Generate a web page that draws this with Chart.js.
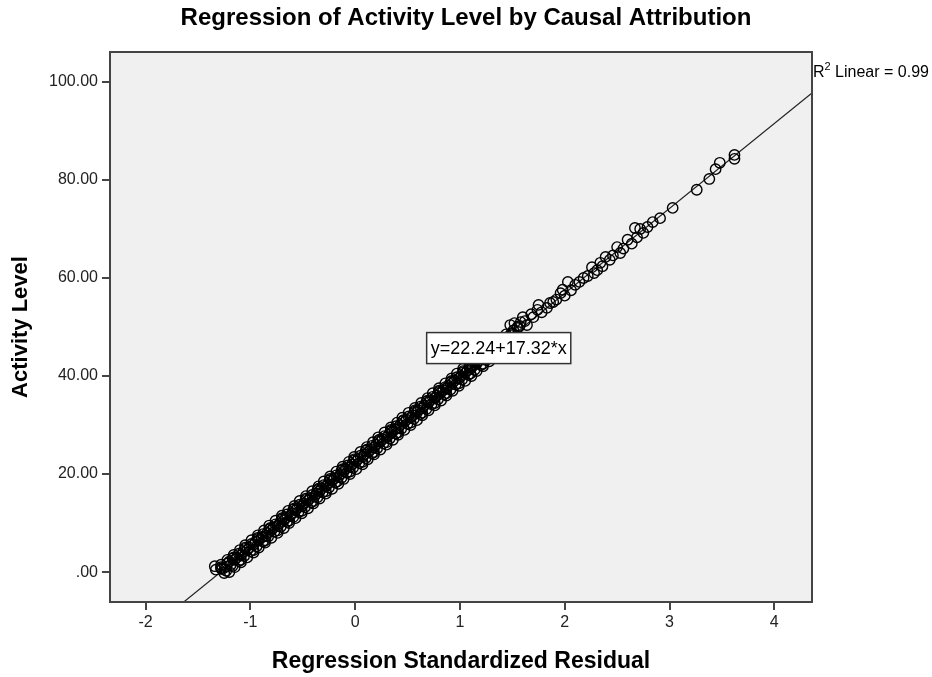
<!DOCTYPE html>
<html>
<head>
<meta charset="utf-8">
<title>Regression of Activity Level by Causal Attribution</title>
<script src="https://cdn.jsdelivr.net/npm/chart.js@4.4.1/dist/chart.umd.min.js"></script>
<style>
  html, body { margin: 0; padding: 0; background: #ffffff; }
  #chartBox { width: 932px; height: 677px; }
</style>
</head>
<body>
<div id="chartBox"><canvas id="scatter" width="932" height="677"></canvas></div>
<script>
// Values
const bandResid = [
  -1.25, -1.27, -1.34, -1.23, -1.19, -1.20, -1.15, -1.13, -1.09, -1.07, -1.03, -1.01, -0.97,
  -0.95, -0.92, -0.89, -0.85, -0.84, -0.80, -0.78, -0.74, -0.72, -0.68, -0.66, -0.62, -0.60,
  -0.57, -0.55, -0.51, -0.49, -0.45, -0.43, -0.39, -0.37, -0.34, -0.32, -0.28, -0.26, -0.22,
  -0.20, -0.16, -0.14, -0.11, -0.09, -0.05, -0.03, 0.01, 0.03, 0.07, 0.09, 0.13, 0.15, 0.18,
  0.20, 0.24, 0.26, 0.30, 0.32, 0.35, 0.38, 0.41, 0.43, 0.47, 0.49, 0.53, 0.55, 0.59, 0.60,
  0.64, 0.66, 0.70, 0.72, 0.76, 0.78, 0.81, 0.84, 0.87, 0.89, 0.93, 0.95, 0.99, 1.01, 1.05,
  1.07, 1.10, 1.12, 1.16, 1.18, 1.22, 1.24, 1.27, 1.30, 1.33, 1.35, 1.39, 1.41, 1.45, 1.46,
  1.50, 1.51, 1.55
];
const bandActivity = [
  -0.2, 0.6, 1.2, 1.1, 1.4, 2.2, 2.5, 3.0, 3.4, 4.1, 4.5, 5.0, 5.6,
  6.2, 6.5, 7.1, 7.4, 8.0, 8.5, 9.1, 9.4, 10.0, 10.6, 11.1, 11.5, 12.0,
  12.6, 13.1, 13.4, 14.0, 14.6, 15.1, 15.4, 16.0, 16.5, 17.1, 17.5, 18.0, 18.6,
  19.1, 19.4, 20.0, 20.5, 21.1, 21.4, 22.0, 22.6, 23.1, 23.5, 24.0, 24.6, 25.1, 25.4,
  26.0, 26.6, 27.1, 27.5, 28.0, 28.5, 29.1, 29.4, 30.0, 30.6, 31.1, 31.5, 32.0, 32.6, 33.1,
  33.4, 34.0, 34.6, 35.1, 35.5, 36.0, 36.5, 37.1, 37.4, 38.0, 38.6, 39.1, 39.5, 40.0, 40.6,
  41.1, 41.4, 42.0, 42.6, 43.1, 43.5, 44.0, 44.5, 45.1, 45.4, 46.0, 46.6, 47.1, 47.5, 48.0,
  48.6, 49.3, 49.8
];
// points a little above / below the fitted line inside the dense band
const spreadResid = [
  -1.28, -1.16, -1.05, -0.93, -0.81, -0.70, -0.58, -0.47, -0.35, -0.24, -0.12, -0.01,
  0.11, 0.23, 0.34, 0.46, 0.57, 0.69, 0.80, 0.92, 1.03, 1.15, 1.26, 1.38,
  -1.09, -0.97, -0.86, -0.74, -0.63, -0.51, -0.40, -0.28, -0.17, -0.05, 0.07, 0.18,
  0.30, 0.41, 0.53, 0.64, 0.76, 0.87, 0.99, 1.10, 1.22, 1.34, 1.45
];
const spreadActivity = [
  1, 3, 5, 7, 9, 11, 13, 15, 17, 19, 21, 23,
  25, 27, 29, 31, 33, 35, 37, 39, 41, 43, 45, 47,
  2.5, 4.5, 6.5, 8.5, 10.5, 12.5, 14.5, 16.5, 18.5, 20.5, 22.5, 24.5,
  26.5, 28.5, 30.5, 32.5, 34.5, 36.5, 38.5, 40.5, 42.5, 44.5, 46.5
];
// more layers of the band, right and left of the line
const lowerEdgeResid = [
  -1.23, -1.17, -1.11, -1.06, -1.00, -0.94, -0.88, -0.83, -0.77, -0.71, -0.65, -0.59, -0.54,
  -0.48, -0.42, -0.36, -0.31, -0.25, -0.19, -0.13, -0.08, -0.02, 0.04, 0.10, 0.16, 0.21,
  0.27, 0.33, 0.39, 0.44, 0.50, 0.56, 0.62, 0.68, 0.73, 0.79, 0.85, 0.91, 0.96, 1.02,
  1.08, 1.14, 1.20, 1.25, 1.31, 1.37, 1.43, 1.48, 1.54
];
const lowerEdgeActivity = [
  0.25, 1.25, 2.25, 3.25, 4.25, 5.25, 6.25, 7.25, 8.25, 9.25, 10.25, 11.25, 12.25,
  13.25, 14.25, 15.25, 16.25, 17.25, 18.25, 19.25, 20.25, 21.25, 22.25, 23.25, 24.25, 25.25,
  26.25, 27.25, 28.25, 29.25, 30.25, 31.25, 32.25, 33.25, 34.25, 35.25, 36.25, 37.25, 38.25, 39.25,
  40.25, 41.25, 42.25, 43.25, 44.25, 45.25, 46.25, 47.25, 48.25
];
const upperEdgeResid = [
  -1.28, -1.22, -1.17, -1.11, -1.05, -0.99, -0.93, -0.88, -0.82, -0.76, -0.70, -0.65, -0.59,
  -0.53, -0.47, -0.41, -0.36, -0.30, -0.24, -0.18, -0.13, -0.07, -0.01, 0.05, 0.10, 0.16,
  0.22, 0.28, 0.34, 0.39, 0.45, 0.51, 0.57, 0.62, 0.68, 0.74, 0.80, 0.86, 0.91, 0.97,
  1.03, 1.09, 1.14, 1.20, 1.26, 1.32, 1.38, 1.43, 1.49
];
const upperEdgeActivity = [
  0.75, 1.75, 2.75, 3.75, 4.75, 5.75, 6.75, 7.75, 8.75, 9.75, 10.75, 11.75, 12.75,
  13.75, 14.75, 15.75, 16.75, 17.75, 18.75, 19.75, 20.75, 21.75, 22.75, 23.75, 24.75, 25.75,
  26.75, 27.75, 28.75, 29.75, 30.75, 31.75, 32.75, 33.75, 34.75, 35.75, 36.75, 37.75, 38.75, 39.75,
  40.75, 41.75, 42.75, 43.75, 44.75, 45.75, 46.75, 47.75, 48.75
];
const outerLeftResid = [
  -1.33, -1.28, -1.22, -1.16, -1.10, -1.05, -0.99, -0.93, -0.87, -0.82, -0.76, -0.70, -0.64,
  -0.58, -0.53, -0.47, -0.41, -0.35, -0.30, -0.24, -0.18, -0.12, -0.06, -0.01, 0.05, 0.11,
  0.17, 0.22, 0.28, 0.34, 0.40, 0.45, 0.51, 0.57, 0.63, 0.69, 0.74, 0.80, 0.86, 0.92,
  0.97, 1.03, 1.09, 1.15, 1.21, 1.26, 1.32, 1.38, 1.44
];
const outerLeftActivity = [
  0.5, 1.5, 2.5, 3.5, 4.5, 5.5, 6.5, 7.5, 8.5, 9.5, 10.5, 11.5, 12.5,
  13.5, 14.5, 15.5, 16.5, 17.5, 18.5, 19.5, 20.5, 21.5, 22.5, 23.5, 24.5, 25.5,
  26.5, 27.5, 28.5, 29.5, 30.5, 31.5, 32.5, 33.5, 34.5, 35.5, 36.5, 37.5, 38.5, 39.5,
  40.5, 41.5, 42.5, 43.5, 44.5, 45.5, 46.5, 47.5, 48.5
];
const outerRightResid = [
  -1.20, -1.15, -1.09, -1.03, -0.97, -0.92, -0.86, -0.80, -0.74, -0.68, -0.63, -0.57, -0.51,
  -0.45, -0.40, -0.34, -0.28, -0.22, -0.16, -0.11, -0.05, 0.01, 0.07, 0.12, 0.18, 0.24,
  0.30, 0.36, 0.41, 0.47, 0.53, 0.59, 0.64, 0.70, 0.76, 0.82, 0.87, 0.93, 0.99, 1.05,
  1.11, 1.16, 1.22, 1.28, 1.34, 1.39, 1.45, 1.51, 1.57
];
const outerRightActivity = [
  0, 1, 2, 3, 4, 5, 6, 7, 8, 9, 10, 11, 12,
  13, 14, 15, 16, 17, 18, 19, 20, 21, 22, 23, 24, 25,
  26, 27, 28, 29, 30, 31, 32, 33, 34, 35, 36, 37, 38, 39,
  40, 41, 42, 43, 44, 45, 46, 47, 48
];
// the looser upper tail
const tailResid = [
  1.48, 1.60, 1.64, 1.58, 1.74, 1.75, 1.68, 1.83, 1.89, 1.86, 1.96, 1.98, 2.03, 2.10,
  2.18, 2.26, 2.31, 2.34, 2.39, 2.43, 2.50, 2.53, 2.56, 2.60, 2.67, 2.72, 2.79, 2.84,
  2.91, 3.03, 3.26, 3.38, 3.44, 3.48, 3.62, 3.62,
  1.52, 1.57, 1.70, 1.78, 1.92, 2.00, 2.06, 2.14, 2.22, 2.28, 2.36, 2.46, 2.64, 2.69,
  2.75, 1.55, 1.62
];
const tailActivity = [
  50.4, 52.0, 50.4, 51.0, 53.5, 54.5, 52.6, 53.9, 55.1, 54.9, 56.9, 57.6, 59.2, 58.6,
  60.0, 62.2, 61.6, 63.1, 64.3, 63.7, 66.3, 65.1, 66.0, 67.8, 70.2, 70.0, 70.4, 71.4,
  72.2, 74.3, 78.0, 80.2, 82.2, 83.5, 85.1, 84.3,
  50.8, 50.2, 52.0, 53.0, 55.6, 56.4, 57.5, 59.2, 60.4, 61.0, 62.4, 64.6, 67.0, 68.3,
  69.2, 50.0, 51.2
];

const xTicks = [-2, -1, 0, 1, 2, 3, 4];
const yTicks = [0, 20, 40, 60, 80, 100];
const xRange = [-2.34, 4.36];
const yRange = [-6.1, 106.1];

const fitIntercept = 22.24;
const fitSlope = 17.32;
const rSquared = 0.99;
const fitLabelAt = [1.37, 45.7]; // where SPSS placed the equation box

const TITLE = 'Regression of Activity Level by Causal Attribution';
const FONT = "'Liberation Sans', Arial, sans-serif";
const AXIS_COLOR = '#444444';

const points = [];
[
  [bandResid, bandActivity],
  [spreadResid, spreadActivity],
  [lowerEdgeResid, lowerEdgeActivity],
  [upperEdgeResid, upperEdgeActivity],
  [outerLeftResid, outerLeftActivity],
  [outerRightResid, outerRightActivity],
  [tailResid, tailActivity]
].forEach(([xs, ys]) => {
  xs.forEach((x, i) => points.push({ x: x, y: ys[i] }));
});

const fitLine = xRange.map(x => ({ x: x, y: fitIntercept + fitSlope * x }));

// grey plot background, frame, title, equation box and R² note
const spssDecor = {
  id: 'spssDecor',
  beforeDraw(chart) {
    const { ctx, chartArea: a } = chart;
    ctx.save();
    ctx.fillStyle = '#ffffff';
    ctx.fillRect(0, 0, chart.width, chart.height);
    ctx.fillStyle = '#f0f0f0';
    ctx.fillRect(a.left, a.top, a.right - a.left, a.bottom - a.top);
    ctx.restore();
  },
  afterDraw(chart) {
    const { ctx, chartArea: a, scales } = chart;
    ctx.save();
    ctx.strokeStyle = AXIS_COLOR;
    ctx.lineWidth = 2;
    ctx.strokeRect(a.left, a.top, a.right - a.left, a.bottom - a.top);

    // title, centred over the plot frame
    ctx.fillStyle = '#000000';
    ctx.font = 'bold 24px ' + FONT;
    ctx.textAlign = 'center';
    ctx.textBaseline = 'middle';
    ctx.fillText(TITLE, (a.left + a.right) / 2 + 5, 18);

    // equation box
    const label = 'y=' + fitIntercept.toFixed(2) + '+' + fitSlope.toFixed(2) + '*x';
    ctx.font = '18px ' + FONT;
    const tw = ctx.measureText(label).width;
    const cx = scales.x.getPixelForValue(fitLabelAt[0]);
    const cy = scales.y.getPixelForValue(fitLabelAt[1]);
    const bw = tw + 8, bh = 31;
    ctx.fillStyle = '#ffffff';
    ctx.fillRect(cx - bw / 2, cy - bh / 2, bw, bh);
    ctx.strokeStyle = '#333333';
    ctx.lineWidth = 1.5;
    ctx.strokeRect(cx - bw / 2, cy - bh / 2, bw, bh);
    ctx.fillStyle = '#000000';
    ctx.fillText(label, cx, cy + 1);

    // R² Linear note just outside the frame
    ctx.textAlign = 'left';
    ctx.textBaseline = 'alphabetic';
    let x = a.right + 1;
    const base = a.top + 25;
    ctx.font = '16px ' + FONT;
    ctx.fillText('R', x, base);
    x += ctx.measureText('R').width;
    ctx.font = '11px ' + FONT;
    ctx.fillText('2', x, base - 7);
    x += ctx.measureText('2').width;
    ctx.font = '16px ' + FONT;
    ctx.fillText(' Linear = ' + rSquared.toFixed(2), x, base);
    ctx.restore();
  }
};

new Chart(document.getElementById('scatter'), {
  type: 'scatter',
  data: {
    datasets: [
      {
        label: 'Observed',
        data: points,
        pointStyle: 'circle',
        pointRadius: 5.2,
        pointHoverRadius: 5.2,
        borderColor: '#000000',
        backgroundColor: 'rgba(0,0,0,0)',
        borderWidth: 1.4,
        order: 1
      },
      {
        label: 'Linear fit',
        type: 'line',
        data: fitLine,
        borderColor: '#222222',
        borderWidth: 1.2,
        pointRadius: 0,
        fill: false,
        order: 2
      }
    ]
  },
  options: {
    responsive: false,
    animation: false,
    layout: { padding: { left: 0, right: 120, top: 52, bottom: 0 } },
    plugins: {
      legend: { display: false },
      tooltip: { enabled: false },
      title: { display: false }
    },
    scales: {
      x: {
        type: 'linear',
        min: xRange[0],
        max: xRange[1],
        afterBuildTicks: axis => { axis.ticks = xTicks.map(v => ({ value: v })); },
        afterFit: scale => { scale.height = 75; },
        border: { display: false },
        grid: { drawOnChartArea: false, drawTicks: true, tickLength: 8, color: AXIS_COLOR, lineWidth: 2 },
        ticks: {
          color: '#222222',
          padding: 3,
          font: { family: FONT, size: 16 }
        },
        title: {
          display: true,
          text: 'Regression Standardized Residual',
          color: '#000000',
          font: { family: FONT, size: 23, weight: 'bold' },
          padding: { top: 0, bottom: 2 }
        }
      },
      y: {
        type: 'linear',
        min: yRange[0],
        max: yRange[1],
        afterBuildTicks: axis => { axis.ticks = yTicks.map(v => ({ value: v })); },
        afterFit: scale => { scale.width = 110; },
        border: { display: false },
        grid: { drawOnChartArea: false, drawTicks: true, tickLength: 8, color: AXIS_COLOR, lineWidth: 2 },
        ticks: {
          color: '#222222',
          padding: 4,
          font: { family: FONT, size: 16 },
          callback: v => (v === 0 ? '.00' : v.toFixed(2))
        },
        title: {
          display: true,
          text: 'Activity Level',
          color: '#000000',
          font: { family: FONT, size: 22, weight: 'bold' },
          padding: { top: 8, bottom: 0 }
        }
      }
    }
  },
  plugins: [spssDecor]
});
</script>
</body>
</html>
